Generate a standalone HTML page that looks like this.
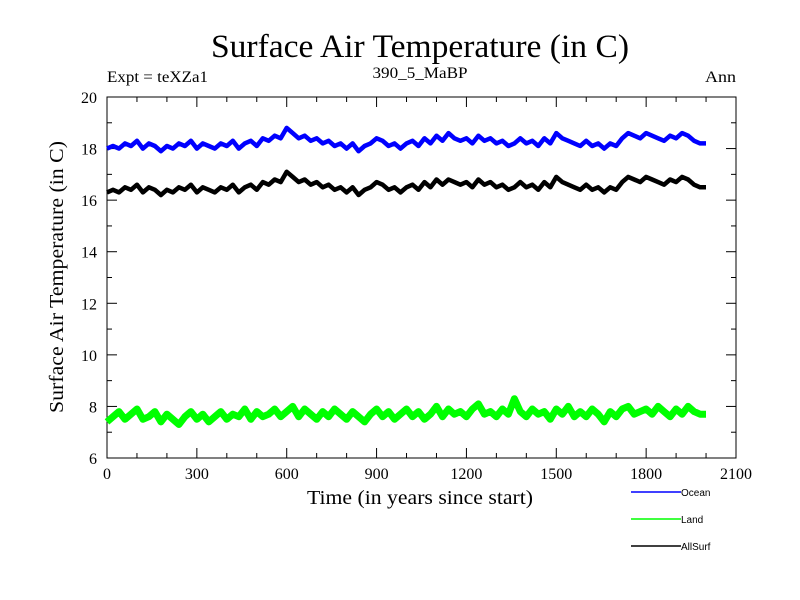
<!DOCTYPE html>
<html><head><meta charset="utf-8"><style>body{margin:0;background:#fff}svg{display:block}text{font-family:"Liberation Serif",serif;fill:#000}</style></head>
<body>
<svg id="chart" width="800" height="600" xmlns="http://www.w3.org/2000/svg">
<text x="420" y="57" font-size="33" text-anchor="middle" textLength="418" lengthAdjust="spacingAndGlyphs">Surface Air Temperature (in C)</text>
<text x="107" y="82" font-size="16" textLength="101" lengthAdjust="spacingAndGlyphs">Expt = teXZa1</text>
<text x="420" y="78" font-size="16" text-anchor="middle" textLength="95" lengthAdjust="spacingAndGlyphs">390_5_MaBP</text>
<text x="736" y="82" font-size="16" text-anchor="end" textLength="31" lengthAdjust="spacingAndGlyphs">Ann</text>
<text x="420" y="504" font-size="20" text-anchor="middle" textLength="226" lengthAdjust="spacingAndGlyphs">Time (in years since start)</text>
<text transform="translate(63,277) rotate(-90)" font-size="20" text-anchor="middle" textLength="272" lengthAdjust="spacingAndGlyphs">Surface Air Temperature (in C)</text>
<g id="axes"></g>
<g id="series"></g>
<g id="legend"></g>
</svg>
<script>
const years = [];
const xTicks = [0,300,600,900,1200,1500,1800,2100];
const yTicks = [6,8,10,12,14,16,18,20];
const ocean = [18.0,18.1,18.0,18.2,18.1,18.3,18.0,18.2,18.1,17.9,
18.1,18.0,18.2,18.1,18.3,18.0,18.2,18.1,18.0,18.2,
18.1,18.3,18.0,18.2,18.3,18.1,18.4,18.3,18.5,18.4,
18.8,18.6,18.4,18.5,18.3,18.4,18.2,18.3,18.1,18.2,
18.0,18.2,17.9,18.1,18.2,18.4,18.3,18.1,18.2,18.0,
18.2,18.3,18.1,18.4,18.2,18.5,18.3,18.6,18.4,18.3,
18.4,18.2,18.5,18.3,18.4,18.2,18.3,18.1,18.2,18.4,
18.2,18.3,18.1,18.4,18.2,18.6,18.4,18.3,18.2,18.1,
18.3,18.1,18.2,18.0,18.2,18.1,18.4,18.6,18.5,18.4,
18.6,18.5,18.4,18.3,18.5,18.4,18.6,18.5,18.3,18.2,18.2];
const allsurf = [16.3,16.4,16.3,16.5,16.4,16.6,16.3,16.5,16.4,16.2,
16.4,16.3,16.5,16.4,16.6,16.3,16.5,16.4,16.3,16.5,
16.4,16.6,16.3,16.5,16.6,16.4,16.7,16.6,16.8,16.7,
17.1,16.9,16.7,16.8,16.6,16.7,16.5,16.6,16.4,16.5,
16.3,16.5,16.2,16.4,16.5,16.7,16.6,16.4,16.5,16.3,
16.5,16.6,16.4,16.7,16.5,16.8,16.6,16.8,16.7,16.6,
16.7,16.5,16.8,16.6,16.7,16.5,16.6,16.4,16.5,16.7,
16.5,16.6,16.4,16.7,16.5,16.9,16.7,16.6,16.5,16.4,
16.6,16.4,16.5,16.3,16.5,16.4,16.7,16.9,16.8,16.7,
16.9,16.8,16.7,16.6,16.8,16.7,16.9,16.8,16.6,16.5,16.5];
const land = [7.4,7.6,7.8,7.5,7.7,7.9,7.5,7.6,7.8,7.4,
7.7,7.5,7.3,7.6,7.8,7.5,7.7,7.4,7.6,7.8,
7.5,7.7,7.6,7.9,7.5,7.8,7.6,7.7,7.9,7.6,
7.8,8.0,7.6,7.9,7.7,7.5,7.8,7.6,7.9,7.7,
7.5,7.8,7.6,7.4,7.7,7.9,7.6,7.8,7.5,7.7,
7.9,7.6,7.8,7.5,7.7,8.0,7.6,7.9,7.7,7.8,
7.6,7.9,8.1,7.7,7.8,7.6,7.9,7.7,8.3,7.8,
7.6,7.9,7.7,7.8,7.5,7.9,7.7,8.0,7.6,7.8,
7.6,7.9,7.7,7.4,7.8,7.6,7.9,8.0,7.7,7.8,
7.9,7.7,8.0,7.8,7.6,7.9,7.7,8.0,7.8,7.7,7.7];
for (let i = 0; i < ocean.length; i++) years.push(i * 20);

const X0=107,X1=736,Y0=458,Y1=97;
const xs=v=>X0+(v-0)/2100*(X1-X0);
const ys=v=>Y0-(v-6)/14*(Y0-Y1);
const NS="http://www.w3.org/2000/svg";
function mk(tag,parent,attrs){const e=document.createElementNS(NS,tag);for(const k in attrs)e.setAttribute(k,attrs[k]);parent.appendChild(e);return e;}
const axes=document.getElementById('axes');
const frame=mk('rect',axes,{x:X0,y:Y1,width:X1-X0,height:Y0-Y1,fill:'none',stroke:'#000','stroke-width':1});


for(let v=0;v<=2100;v+=100){const L=v%300===0?10:5;
 mk('line',axes,{x1:xs(v),x2:xs(v),y1:Y0,y2:Y0-L,stroke:'#000'});
 mk('line',axes,{x1:xs(v),x2:xs(v),y1:Y1,y2:Y1+L,stroke:'#000'});}
for(let v=6;v<=20;v+=1){const L=v%2===0?10:5;
 mk('line',axes,{x1:X0,x2:X0+L,y1:ys(v),y2:ys(v),stroke:'#000'});
 mk('line',axes,{x1:X1,x2:X1-L,y1:ys(v),y2:ys(v),stroke:'#000'});}
xTicks.forEach(v=>{const t=mk('text',axes,{x:xs(v),y:Y0+21,'font-size':16,'text-anchor':'middle'});t.textContent=v;
 
 });
yTicks.forEach(v=>{const t=mk('text',axes,{x:X0-10,y:ys(v)+6,'font-size':16,'text-anchor':'end'});t.textContent=v;
 
 });
const series=document.getElementById('series');
function line(arr,color,name,w){const d=arr.map((v,i)=>(i?'L':'M')+xs(years[i]).toFixed(1)+','+ys(v).toFixed(1)).join('');
 const p=mk('path',series,{d:d,fill:'none',stroke:color,'stroke-width':w,'stroke-linejoin':'round'});
 
 }
line(land,'#00ff00','land-line',7);
line(allsurf,'#000000','allsurf-line',4.5);
line(ocean,'#0000ff','ocean-line',4.5);
const legend=document.getElementById('legend');
[['Ocean','#0000ff',492],['Land','#00ff00',519],['AllSurf','#000000',546]].forEach(([n,c,y])=>{
 const l=mk('line',legend,{x1:631,x2:681,y1:y,y2:y,stroke:c,'stroke-width':1.5});
 
 
 const t=mk('text',legend,{x:681,y:y+4,'font-size':10,style:'font-family:"Liberation Sans",sans-serif'});t.textContent=n;
 
 });
</script>
</body></html>
